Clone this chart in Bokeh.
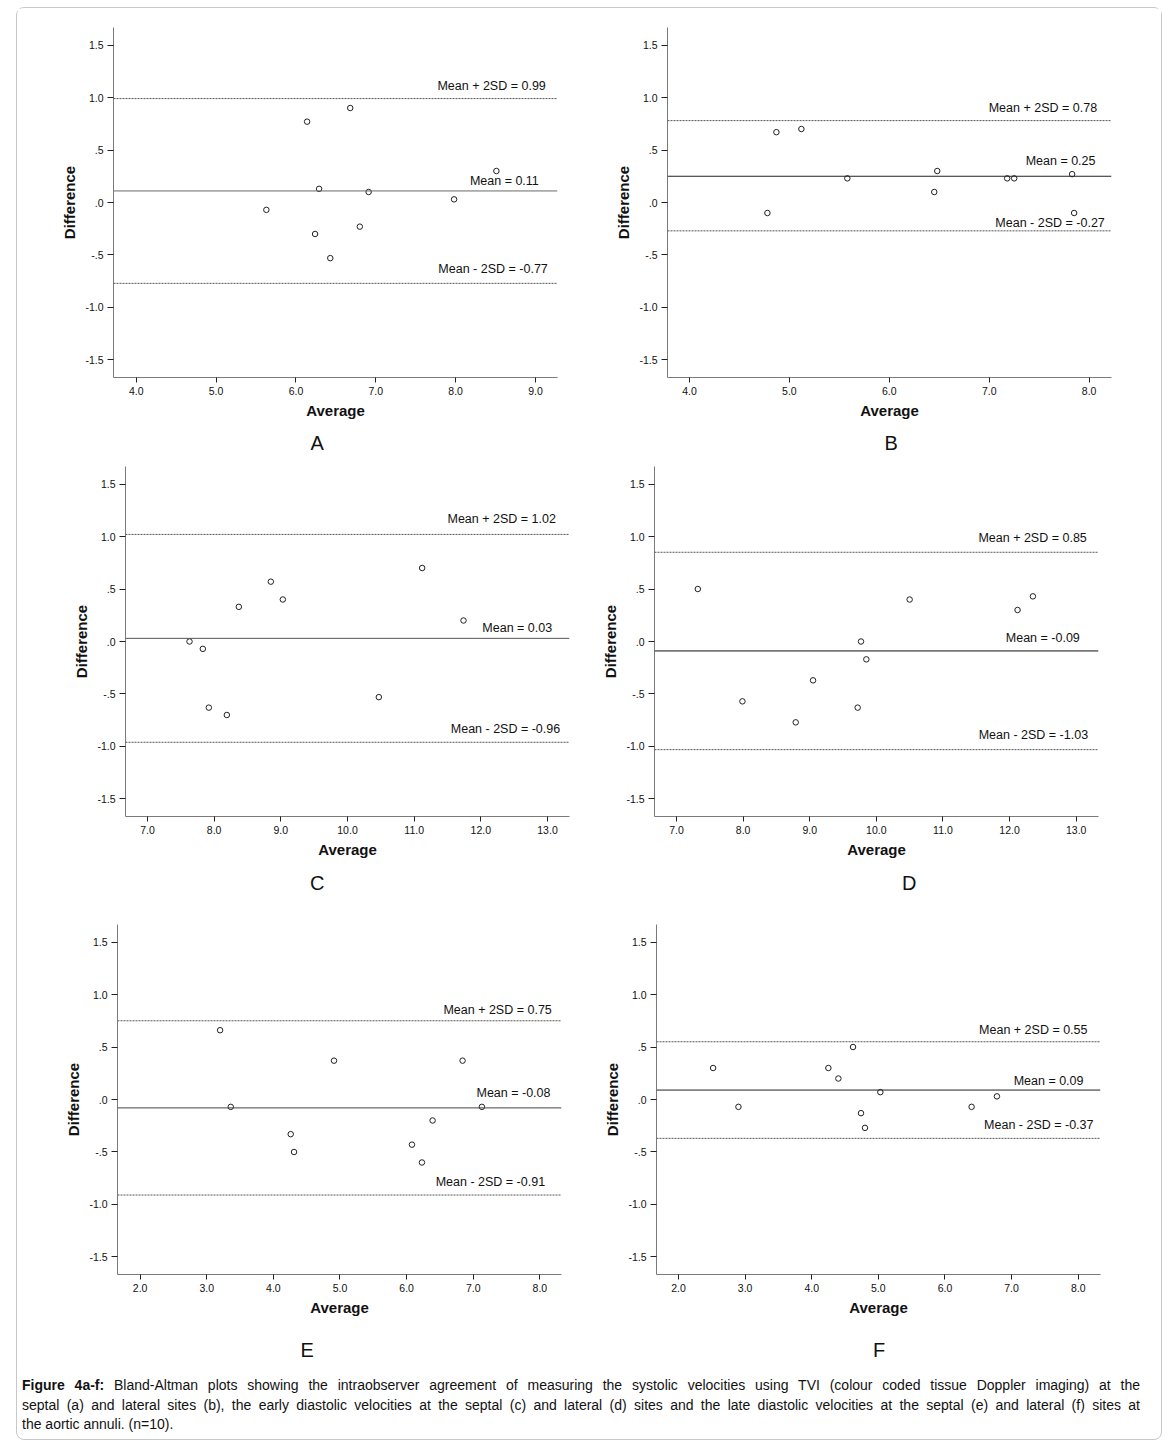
from bokeh.plotting import figure
from bokeh.models import Span, Label, FixedTicker, Range1d, Div
from bokeh.layouts import row, column
from bokeh.embed import file_html
from bokeh.resources import INLINE

# ---------------- data ----------------
avg_a = [5.63, 6.14, 6.68, 6.29, 6.24, 6.43, 6.80, 6.91, 7.98, 8.51]
diff_a = [-0.07, 0.77, 0.90, 0.13, -0.30, -0.53, -0.23, 0.10, 0.03, 0.30]
mean_a, upper_a, lower_a = 0.11, 0.99, -0.77

avg_b = [4.78, 4.87, 5.12, 5.58, 6.45, 6.48, 7.18, 7.25, 7.83, 7.85]
diff_b = [-0.10, 0.67, 0.70, 0.23, 0.10, 0.30, 0.23, 0.23, 0.27, -0.10]
mean_b, upper_b, lower_b = 0.25, 0.78, -0.27

avg_c = [7.63, 7.83, 7.92, 8.19, 8.37, 8.85, 9.03, 10.47, 11.12, 11.74]
diff_c = [0.00, -0.07, -0.63, -0.70, 0.33, 0.57, 0.40, -0.53, 0.70, 0.20]
mean_c, upper_c, lower_c = 0.03, 1.02, -0.96

avg_d = [7.32, 7.99, 8.79, 9.05, 9.72, 9.77, 9.85, 10.50, 12.12, 12.35]
diff_d = [0.50, -0.57, -0.77, -0.37, -0.63, 0.00, -0.17, 0.40, 0.30, 0.43]
mean_d, upper_d, lower_d = -0.09, 0.85, -1.03

avg_e = [3.20, 3.36, 4.26, 4.31, 4.91, 6.08, 6.23, 6.39, 6.84, 7.13]
diff_e = [0.66, -0.07, -0.33, -0.50, 0.37, -0.43, -0.60, -0.20, 0.37, -0.07]
mean_e, upper_e, lower_e = -0.08, 0.75, -0.91

avg_f = [2.52, 2.90, 4.25, 4.40, 4.62, 4.74, 4.80, 5.03, 6.40, 6.78]
diff_f = [0.30, -0.07, 0.30, 0.20, 0.50, -0.13, -0.27, 0.07, -0.07, 0.03]
mean_f, upper_f, lower_f = 0.09, 0.55, -0.37

y_ticks = [-1.5, -1.0, -0.5, 0.0, 0.5, 1.0, 1.5]
y_tick_labels = ["-1.5", "-1.0", "-.5", ".0", ".5", "1.0", "1.5"]
x_ticks_a = [4, 5, 6, 7, 8, 9]
x_ticks_b = [4, 5, 6, 7, 8]
x_ticks_c = [7, 8, 9, 10, 11, 12, 13]
x_ticks_d = [7, 8, 9, 10, 11, 12, 13]
x_ticks_e = [2, 3, 4, 5, 6, 7, 8]
x_ticks_f = [2, 3, 4, 5, 6, 7, 8]
panel_letters = ["A", "B", "C", "D", "E", "F"]
x_title = "Average"
y_title = "Difference"

caption_bold = "Figure 4a-f:"
caption_lines = [
    " Bland-Altman plots showing the intraobserver agreement of measuring the systolic velocities using TVI (colour coded tissue Doppler imaging) at the",
    "septal (a) and lateral sites (b), the early diastolic velocities at the septal (c) and lateral (d) sites and the late diastolic velocities at the septal (e) and lateral (f) sites at",
    "the aortic annuli. (n=10).",
]

# ---------------- layout / style ----------------
FW, FH = 444, 350
Y0, Y1 = -1.667, 1.667
FONT = "Liberation Sans"

# mb = (top, right, bottom, left) borders; ts = title standoff
panels = [
    dict(avg=avg_a, diff=diff_a, m=mean_a, u=upper_a, l=lower_a, xt=x_ticks_a,
         xr=(3.716, 9.275), mb=(19, 33, 88, 96), mean_col="#6a6a6a",
         ldx=(11.7, 18.7, 9.7), ldy=(12.4, 10.0, 14.3), let=197.0, ts=17.4),
    dict(avg=avg_b, diff=diff_b, m=mean_b, u=upper_b, l=lower_b, xt=x_ticks_b,
         xr=(3.78, 8.224), mb=(19, 50, 88, 77), mean_col="#222222",
         ldx=(14.4, 16.0, 6.7), ldy=(12.3, 15.3, 7.7), let=217.0, ts=17.4),
    dict(avg=avg_c, diff=diff_c, m=mean_c, u=upper_c, l=lower_c, xt=x_ticks_c,
         xr=(6.67, 13.33), mb=(1, 21, 90, 108), mean_col="#555555",
         ldx=(13.6, 17.3, 9.3), ldy=(15.0, 10.3, 13.7), let=184.5, ts=18.8),
    dict(avg=avg_d, diff=diff_d, m=mean_d, u=upper_d, l=lower_d, xt=x_ticks_d,
         xr=(6.67, 13.335), mb=(1, 63, 90, 64), mean_col="#111111",
         ldx=(11.7, 18.7, 10.4), ldy=(14.0, 13.0, 14.7), let=247.5, ts=18.8),
    dict(avg=avg_e, diff=diff_e, m=mean_e, u=upper_e, l=lower_e, xt=x_ticks_e,
         xr=(1.66, 8.325), mb=(18, 29, 108, 100), mean_col="#444444",
         ldx=(9.7, 11.0, 16.4), ldy=(10.6, 15.0, 12.6), let=183.0, ts=36.8),
    dict(avg=avg_f, diff=diff_f, m=mean_f, u=upper_f, l=lower_f, xt=x_ticks_f,
         xr=(1.67, 8.335), mb=(18, 61, 108, 66), mean_col="#222222",
         ldx=(13.0, 17.0, 7.0), ldy=(12.0, 8.7, 13.3), let=216.6, ts=36.8),
]

figs = []
for i, c in enumerate(panels):
    x0, x1 = c["xr"]
    ppx = FW / (x1 - x0)
    ppy = FH / (Y1 - Y0)
    top, right, bottom, left = c["mb"]
    p = figure(frame_width=FW, frame_height=FH,
               x_range=Range1d(x0, x1), y_range=Range1d(Y0, Y1),
               min_border_top=top, min_border_right=right,
               min_border_bottom=bottom, min_border_left=left,
               title=panel_letters[i], title_location="below",
               output_backend="svg", toolbar_location=None,
               background_fill_color="white", border_fill_color="white")
    p.outline_line_color = None
    p.grid.visible = False

    p.title.align = "left"
    p.title.offset = c["let"]
    p.title.standoff = c["ts"]
    p.title.text_font = FONT
    p.title.text_font_size = "20px"
    p.title.text_font_style = "normal"
    p.title.text_color = "#111111"

    p.xaxis.ticker = FixedTicker(ticks=c["xt"])
    p.xaxis.major_label_overrides = {t: f"{t:.1f}" for t in c["xt"]}
    p.yaxis.ticker = FixedTicker(ticks=y_ticks)
    p.yaxis.major_label_overrides = dict(zip(y_ticks, y_tick_labels))
    for ax in (p.xaxis, p.yaxis):
        ax.minor_tick_line_color = None
        ax.axis_line_color = "#7a7a7a"
        ax.axis_line_width = 1
        ax.major_tick_line_color = "#222222"
        ax.major_tick_in = 0
        ax.major_label_text_font = FONT
        ax.major_label_text_font_size = "10.5px"
        ax.major_label_text_color = "#111111"
        ax.major_label_standoff = 4
        ax.axis_label_text_font = FONT
        ax.axis_label_text_font_size = "15px"
        ax.axis_label_text_font_style = "bold"
        ax.axis_label_text_color = "#111111"
        ax.axis_label_standoff = 4
    p.xaxis.major_tick_out = 5
    p.yaxis.major_tick_out = 6
    p.xaxis.axis_label = x_title
    p.yaxis.axis_label = y_title

    p.add_layout(Span(location=c["u"], dimension="width", line_color="#555555",
                      line_width=1, line_dash="2 1"))
    p.add_layout(Span(location=c["m"], dimension="width", line_color=c["mean_col"],
                      line_width=1))
    p.add_layout(Span(location=c["l"], dimension="width", line_color="#555555",
                      line_width=1, line_dash="2 1"))

    p.scatter(c["avg"], c["diff"], marker="circle", size=5.5, fill_color=None,
              line_color="#222222", line_width=1)

    texts = [f"Mean + 2SD = {c['u']:.2f}", f"Mean = {c['m']:.2f}",
             f"Mean - 2SD = {c['l']:.2f}"]
    vals = [c["u"], c["m"], c["l"]]
    for t, v, dx, dy in zip(texts, vals, c["ldx"], c["ldy"]):
        p.add_layout(Label(x=x1 - dx / ppx, y=v + dy / ppy, text=t,
                           text_align="right", text_baseline="middle",
                           text_font=FONT, text_font_size="12.5px",
                           text_color="#111111"))
    figs.append(p)

line_style = "text-align: justify; text-align-last: justify;"
html = (
    f"<div style=\"font-family: 'Liberation Sans', Arial, sans-serif; font-size: 14px; "
    f"line-height: 19.5px; color: #111; width: 1123px; padding: 0 0 0 5px; "
    f"position: relative; top: -6px;\">"
    f"<div style='{line_style}'><b>{caption_bold}</b>{caption_lines[0]}</div>"
    f"<div style='{line_style}'>{caption_lines[1]}</div>"
    f"<div>{caption_lines[2]}</div>"
    f"</div>"
)
caption = Div(text=html, width=1144, height=57, margin=(0, 0, 0, 0))

root = column(
    row(figs[0], figs[1]),
    row(figs[2], figs[3]),
    row(figs[4], figs[5]),
    caption,
    margin=(7, 0, 0, 16),
    styles={"border": "1px solid #c8c8c8", "border-radius": "8px",
            "background-color": "white"},
)

open("out.html", "w").write(file_html(root, INLINE))
